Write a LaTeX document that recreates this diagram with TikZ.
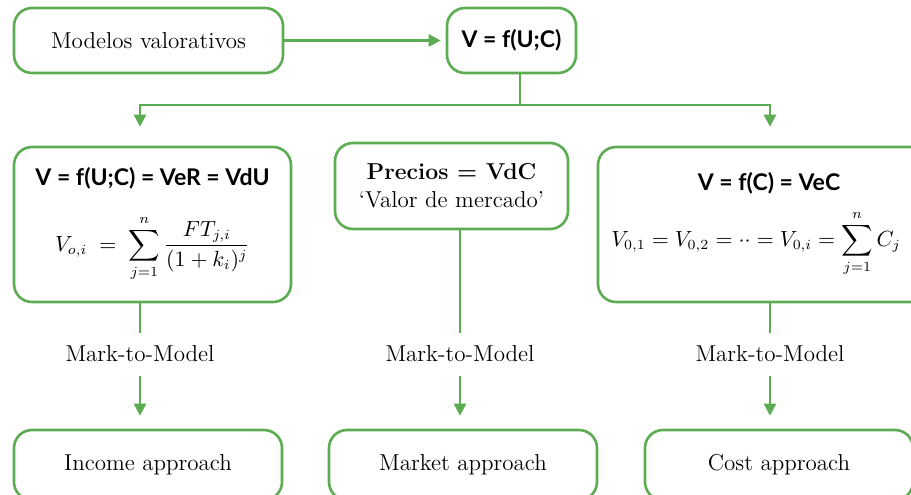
\documentclass[tikz,border=0pt]{standalone}
\usepackage{amsmath}
\usepackage{fontspec}
\setsansfont{Lato}
\usetikzlibrary{arrows.meta}
\definecolor{verde}{RGB}{92,172,82}

\begin{document}
\begin{tikzpicture}[x=0.5pt,y=-0.5pt,
caja/.style={draw=verde,line width=1.3pt,rounded corners=9pt,align=center,inner sep=0pt,font=\fontsize{11.5}{14}\selectfont},
linea/.style={draw=verde,line width=1.2pt},
flecha/.style={linea,-{Triangle[length=6pt,width=6pt]}},
marca/.style={inner xsep=0pt,inner ysep=6.5pt,font=\fontsize{11.5}{14}\selectfont}]
\useasboundingbox (0,0) rectangle (911,494);

\node[caja,minimum width=134.5pt,minimum height=32.5pt] (mod) at (148.5,40.5) {Modelos valorativos};
\node[caja,minimum width=64.5pt,minimum height=32.5pt] (vuc) at (511.5,40.5) {\sffamily\bfseries V = f(U;C)};

\node[caja,minimum width=138.5pt,minimum height=77.5pt] (ing) at (152.5,224.5)
{{\sffamily\bfseries V = f(U;C) = VeR = VdU}\\[12pt]
{\fontsize{10.5}{12}\selectfont$\displaystyle V_{o,i}\;=\;\sum_{j=1}^{n}\frac{FT_{j,i}}{(1+k_i)^{j}}$}};
\node[caja,minimum width=116.5pt,minimum height=43pt] (mer) at (451.5,186)
{\textbf{Precios = VdC}\\`Valor de mercado'};
\node[caja,minimum width=171pt,minimum height=77.5pt] (cos) at (769,224.5)
{{\sffamily\bfseries V = f(C) = VeC}\\[7pt]
{\fontsize{10.5}{12}\selectfont$\displaystyle V_{0,1}=V_{0,2}=\cdot\cdot=V_{0,i}=\sum_{j=1}^{n}C_j$}\hspace*{13pt}};

\node[marca] (m1) at (140,354) {Mark-to-Model};
\node[marca] (m2) at (460,354) {Mark-to-Model};
\node[marca] (m3) at (770,354) {Mark-to-Model};

\node[caja,minimum width=134pt,minimum height=35pt] (inc) at (148,465) {Income approach};
\node[caja,minimum width=134pt,minimum height=35pt] (mka) at (463,465) {Market approach};
\node[caja,minimum width=134pt,minimum height=35pt] (coa) at (779,465) {Cost approach};

\coordinate (rama) at (520,105);
\draw[flecha,shorten >=2.5pt] (mod) -- (vuc);
\draw[linea] (vuc.south -| rama) -- (rama);
\draw[flecha,shorten >=9.5pt] (rama) -| (ing.north -| m1);
\draw[flecha,shorten >=9.5pt] (rama) -| (cos.north -| m3);

\draw[linea] (ing.south -| m1) -- (m1);
\draw[linea] (mer.south -| m2) -- (m2);
\draw[linea] (cos.south -| m3) -- (m3);
\draw[flecha,shorten >=6.5pt] (m1) -- (inc.north -| m1);
\draw[flecha,shorten >=6.5pt] (m2) -- (mka.north -| m2);
\draw[flecha,shorten >=6.5pt] (m3) -- (coa.north -| m3);
\end{tikzpicture}
\end{document}
